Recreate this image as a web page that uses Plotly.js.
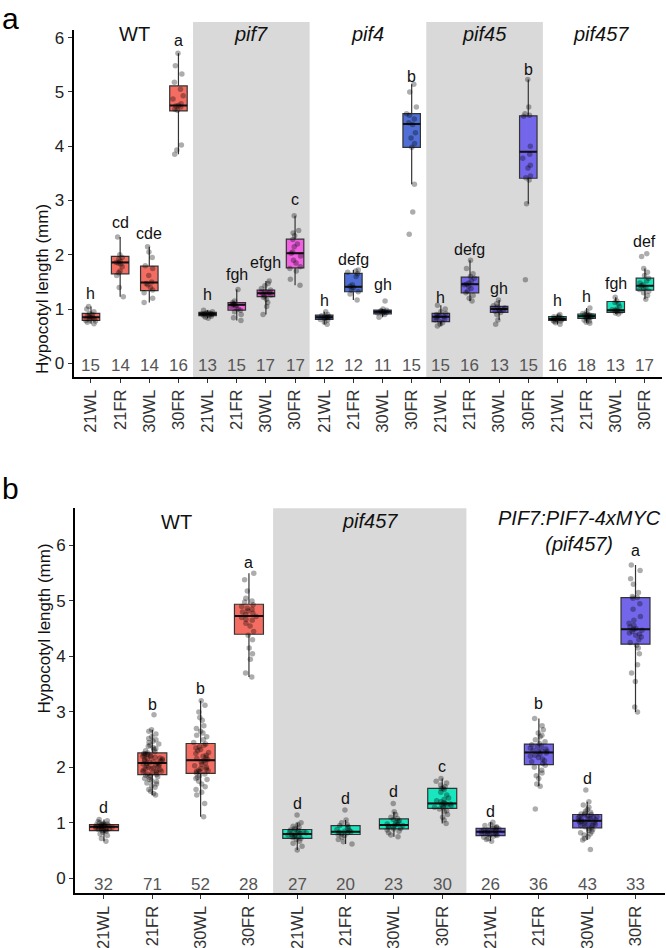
<!DOCTYPE html>
<html><head><meta charset="utf-8">
<script src="https://cdn.plot.ly/plotly-3.0.1.min.js"></script>
<style>html,body{margin:0;padding:0;background:#fff}#chart{width:666px;height:948px}</style>
</head><body><div id="chart"></div>
<script>
// ---------- Panel a ----------
const aGenotypes = ['WT', '<i>pif7</i>', '<i>pif4</i>', '<i>pif45</i>', '<i>pif457</i>'];
const aColors = ['#F46D62', '#F060E0', '#4F6FD6', '#7466EA', '#18E6BE'];
const aTickLabels = ['21WL','21FR','30WL','30FR','21WL','21FR','30WL','30FR','21WL','21FR','30WL','30FR','21WL','21FR','30WL','30FR','21WL','21FR','30WL','30FR'];
const aCounts = [15,14,14,16, 13,15,17,17, 12,12,11,15, 15,16,13,15, 16,18,13,17];
const aLetters = ['h','cd','cde','a', 'h','fgh','efgh','c', 'h','defg','gh','b', 'h','defg','gh','b', 'h','h','fgh','def'];
const aLetterY = [1.28,2.60,2.39,5.94, 1.26,1.64,1.86,3.02, 1.15,1.92,1.46,5.29, 1.22,2.10,1.38,5.41, 1.15,1.24,1.47,2.25];
const aQ1     = [0.79,1.65,1.34,4.65, 0.88,0.98,1.23,1.76, 0.81,1.32,0.91,3.98, 0.77,1.30,0.94,3.41, 0.79,0.83,0.94,1.35];
const aMedian = [0.85,1.86,1.49,4.75, 0.91,1.08,1.29,2.03, 0.85,1.41,0.95,4.41, 0.86,1.46,1.00,3.90, 0.82,0.87,0.98,1.43];
const aQ3     = [0.92,1.97,1.79,5.11, 0.94,1.12,1.35,2.29, 0.89,1.66,0.98,4.60, 0.92,1.59,1.05,4.56, 0.86,0.91,1.14,1.57];
const aLower  = [0.73,1.23,1.12,3.85, 0.83,0.79,0.90,1.44, 0.72,1.17,0.85,3.30, 0.69,1.15,0.80,2.94, 0.72,0.74,0.91,1.18];
const aUpper  = [1.05,2.33,2.15,5.71, 0.98,1.36,1.52,2.72, 0.95,1.72,1.00,5.14, 1.07,1.90,1.17,5.23, 0.90,1.02,1.22,1.75];
const aPoints = [
  [1.05,1.00,0.95,0.92,0.90,0.88,0.86,0.85,0.84,0.82,0.80,0.79,0.78,0.76,0.73],
  [2.33,2.00,1.95,1.92,1.88,1.86,1.85,1.83,1.78,1.70,1.67,1.62,1.40,1.23],
  [2.15,2.05,1.95,1.80,1.75,1.62,1.50,1.47,1.45,1.40,1.35,1.30,1.20,1.12],
  [5.71,5.48,5.33,5.18,5.05,4.93,4.87,4.78,4.75,4.74,4.72,4.68,4.66,4.02,3.93,3.85],
  [0.98,0.95,0.94,0.93,0.92,0.91,0.91,0.90,0.89,0.88,0.87,0.85,0.83],
  [1.36,1.15,1.12,1.10,1.09,1.08,1.07,1.05,1.03,1.00,0.98,0.95,0.90,0.84,0.79],
  [1.52,1.47,1.43,1.38,1.35,1.33,1.31,1.30,1.29,1.28,1.26,1.24,1.22,1.18,1.12,1.05,0.90],
  [2.72,2.45,2.40,2.35,2.28,2.20,2.15,2.05,2.03,1.98,1.90,1.85,1.78,1.75,1.70,1.55,1.44],
  [0.95,0.90,0.88,0.86,0.85,0.85,0.84,0.83,0.81,0.80,0.76,0.72],
  [1.72,1.70,1.68,1.65,1.60,1.45,1.42,1.40,1.35,1.32,1.28,1.17],
  [1.15,1.00,0.98,0.97,0.96,0.95,0.94,0.93,0.92,0.90,0.85],
  [5.14,5.00,4.72,4.60,4.57,4.50,4.43,4.40,4.25,4.15,4.05,3.98,3.30,2.79,2.38],
  [1.07,1.00,0.95,0.92,0.90,0.88,0.87,0.86,0.84,0.82,0.80,0.77,0.75,0.72,0.69],
  [1.90,1.75,1.65,1.60,1.57,1.52,1.48,1.46,1.45,1.42,1.38,1.33,1.30,1.25,1.20,1.15],
  [1.17,1.10,1.06,1.04,1.02,1.00,0.99,0.98,0.96,0.94,0.90,0.80,0.72],
  [5.23,4.72,4.60,4.57,4.55,4.00,3.85,3.78,3.65,3.60,3.45,3.42,3.38,2.94,1.54],
  [0.90,0.88,0.86,0.85,0.84,0.83,0.83,0.82,0.82,0.81,0.80,0.79,0.78,0.77,0.75,0.72],
  [1.02,0.95,0.92,0.91,0.90,0.89,0.88,0.88,0.87,0.86,0.85,0.84,0.83,0.82,0.80,0.78,0.76,0.74],
  [1.22,1.15,1.12,1.10,1.05,1.00,0.99,0.98,0.97,0.96,0.95,0.93,0.91],
  [2.02,1.97,1.75,1.68,1.62,1.57,1.52,1.48,1.45,1.43,1.40,1.38,1.36,1.33,1.30,1.25,1.18]
];

// ---------- Panel b ----------
const bGenotypes = ['WT', '<i>pif457</i>', '<i>PIF7:PIF7-4xMYC</i><br><i>(pif457)</i>'];
const bColors = ['#F46D62', '#18E6BE', '#7466EA'];
const bTickLabels = ['21WL','21FR','30WL','30FR','21WL','21FR','30WL','30FR','21WL','21FR','30WL','30FR'];
const bCounts = [32,71,52,28, 27,20,23,30, 26,36,43,33];
const bLetters = ['d','b','b','a', 'd','d','d','c', 'd','b','d','a'];
const bLetterY = [1.27,3.13,3.43,5.70, 1.34,1.44,1.57,2.02, 1.20,3.15,1.80,5.91];
const bQ1     = [0.86,1.87,1.89,4.40, 0.72,0.79,0.89,1.26, 0.77,2.05,0.91,4.22];
const bMedian = [0.93,2.08,2.13,4.73, 0.80,0.84,0.96,1.35, 0.84,2.27,1.04,4.49];
const bQ3     = [0.97,2.26,2.43,4.94, 0.88,0.95,1.07,1.62, 0.90,2.42,1.15,5.06];
const bLower  = [0.67,1.50,1.11,3.63, 0.51,0.62,0.75,0.99, 0.67,1.66,0.69,3.00];
const bUpper  = [1.06,2.68,3.20,5.50, 1.00,1.05,1.20,1.80, 1.01,2.88,1.38,5.65];
const bPoints = [
  [1.06,1.04,1.02,1.00,0.99,0.98,0.97,0.97,0.96,0.96,0.95,0.95,0.94,0.94,0.93,0.93,0.92,0.92,0.91,0.90,0.90,0.89,0.88,0.87,0.86,0.86,0.85,0.83,0.80,0.77,0.72,0.67],
  [2.95,2.68,2.65,2.60,2.55,2.52,2.50,2.47,2.45,2.42,2.40,2.38,2.36,2.34,2.32,2.30,2.28,
   2.26,2.25,2.24,2.23,2.22,2.21,2.20,2.19,2.18,2.17,2.16,2.15,2.14,2.13,2.12,2.11,2.10,2.09,
   2.08,
   2.07,2.06,2.05,2.04,2.03,2.02,2.00,1.99,1.98,1.97,1.96,1.95,1.94,1.93,1.92,1.91,1.90,1.88,
   1.87,1.86,1.85,1.83,1.82,1.80,1.78,1.76,1.74,1.72,1.70,1.67,1.64,1.60,1.57,1.53,1.50],
  [3.20,3.12,3.00,2.90,2.85,2.75,2.70,2.65,2.62,2.58,2.55,2.50,2.45,
   2.42,2.40,2.37,2.35,2.32,2.30,2.27,2.25,2.22,2.20,2.18,2.16,2.14,
   2.12,2.10,2.08,2.05,2.03,2.00,1.98,1.97,1.95,1.94,1.93,1.92,1.90,
   1.88,1.85,1.82,1.80,1.78,1.75,1.70,1.65,1.60,1.55,1.50,1.35,1.11],
  [5.50,5.38,5.18,5.05,5.00,4.98,4.93,4.90,4.87,4.85,4.82,4.80,4.78,4.75,
   4.72,4.70,4.67,4.65,4.60,4.55,4.45,4.38,4.30,4.15,4.05,3.95,3.70,3.63],
  [1.14,1.00,0.97,0.94,0.92,0.90,0.88,0.87,0.86,0.85,0.84,0.83,0.82,0.81,0.80,0.79,0.78,0.77,0.76,0.75,0.74,0.72,0.70,0.67,0.63,0.58,0.51],
  [1.23,1.05,1.00,0.97,0.95,0.93,0.90,0.88,0.86,0.85,0.84,0.83,0.82,0.80,0.79,0.77,0.74,0.70,0.66,0.62],
  [1.35,1.20,1.15,1.10,1.08,1.06,1.04,1.02,1.00,0.98,0.97,0.96,0.95,0.94,0.93,0.92,0.90,0.89,0.87,0.85,0.82,0.78,0.75],
  [1.80,1.75,1.72,1.68,1.65,1.63,1.62,1.60,1.55,1.50,1.45,1.42,1.40,1.38,1.36,1.35,1.34,1.33,1.32,1.31,1.30,1.28,1.27,1.25,1.22,1.20,1.15,1.10,1.05,0.99],
  [1.01,0.97,0.95,0.93,0.92,0.91,0.90,0.89,0.88,0.87,0.86,0.85,0.84,0.84,0.83,0.82,0.81,0.80,0.79,0.78,0.77,0.76,0.74,0.72,0.70,0.67],
  [2.88,2.75,2.68,2.62,2.58,2.55,2.50,2.46,2.43,2.41,2.39,2.37,2.35,2.33,2.31,2.30,2.29,2.28,
   2.26,2.24,2.22,2.20,2.18,2.15,2.12,2.10,2.07,2.04,2.00,1.95,1.90,1.85,1.80,1.70,1.66,1.25],
  [1.59,1.38,1.32,1.28,1.24,1.21,1.19,1.17,1.16,1.15,1.14,1.13,1.12,1.11,1.10,1.09,1.08,1.07,1.06,1.05,1.04,
   1.03,1.02,1.01,1.00,0.99,0.98,0.97,0.96,0.95,0.93,0.91,0.90,0.88,0.86,0.84,0.82,0.80,0.78,0.75,0.72,0.69,0.52],
  [5.65,5.55,5.40,5.30,5.15,5.08,5.06,5.05,4.95,4.85,4.72,4.65,4.60,4.56,4.53,4.50,4.49,
   4.47,4.45,4.42,4.40,4.38,4.35,4.30,4.25,4.20,4.15,4.05,3.85,3.70,3.55,3.09,3.00]
];

const FONT = 'Liberation Sans, Arial, Helvetica, sans-serif';
const traces = [];
const annotations = [];

function buildPanel(xa, ya, colors, q1, med, q3, lo, hi, pts, nGroups) {
  for (let g = 0; g < nGroups; g++) {
    const idx = [0,1,2,3].map(k => g*4 + k);
    // box with whiskers
    traces.push({
      type: 'box', xaxis: xa, yaxis: ya, x: idx,
      q1: idx.map(i => q1[i]), median: idx.map(i => med[i]), q3: idx.map(i => q3[i]),
      lowerfence: idx.map(i => lo[i]), upperfence: idx.map(i => hi[i]),
      width: 0.6, whiskerwidth: 0, boxpoints: false,
      fillcolor: colors[g], line: {color: '#333', width: 1.2},
      hoverinfo: 'skip', showlegend: false
    });
    // median line (zero-height box)
    traces.push({
      type: 'box', xaxis: xa, yaxis: ya, x: idx,
      q1: idx.map(i => med[i]), median: idx.map(i => med[i]), q3: idx.map(i => med[i]),
      lowerfence: idx.map(i => med[i]), upperfence: idx.map(i => med[i]),
      width: 0.6, whiskerwidth: 0, boxpoints: false,
      fillcolor: 'rgba(0,0,0,0)', line: {color: '#111', width: 2},
      hoverinfo: 'skip', showlegend: false
    });
  }
  // jittered points
  const px = [], py = [];
  pts.forEach((arr, i) => arr.forEach(v => { px.push(i); py.push(v); }));
  traces.push({
    type: 'box', xaxis: xa, yaxis: ya, x: px, y: py,
    width: 0.6, boxpoints: 'all', jitter: 0.7, pointpos: 0, whiskerwidth: 0,
    fillcolor: 'rgba(0,0,0,0)', line: {color: 'rgba(0,0,0,0)', width: 0},
    marker: {color: 'rgba(0,0,0,0.32)', size: 5.5, line: {width: 0}},
    hoverinfo: 'skip', showlegend: false
  });
}

buildPanel('x', 'y', aColors, aQ1, aMedian, aQ3, aLower, aUpper, aPoints, 5);
buildPanel('x2', 'y2', bColors, bQ1, bMedian, bQ3, bLower, bUpper, bPoints, 3);

// letters and counts
aLetters.forEach((t, i) => annotations.push({xref:'x', yref:'y', x:i, y:aLetterY[i], text:t, showarrow:false, font:{family:FONT, size:16, color:'#111'}}));
aCounts.forEach((t, i) => annotations.push({xref:'x', yref:'y', x:i, y:-0.03, text:String(t), showarrow:false, font:{family:FONT, size:17, color:'#555'}}));
bLetters.forEach((t, i) => annotations.push({xref:'x2', yref:'y2', x:i, y:bLetterY[i], text:t, showarrow:false, font:{family:FONT, size:16, color:'#111'}}));
bCounts.forEach((t, i) => annotations.push({xref:'x2', yref:'y2', x:i, y:-0.12, text:String(t), showarrow:false, font:{family:FONT, size:17, color:'#555'}}));

// genotype headers
aGenotypes.forEach((t, g) => annotations.push({xref:'x', yref:'y', x:g*4+1.5, y:6.06, text:t, showarrow:false, font:{family:FONT, size:20, color:'#111'}}));
annotations.push({xref:'x2', yref:'y2', x:1.5, y:6.43, text:bGenotypes[0], showarrow:false, font:{family:FONT, size:20, color:'#111'}});
annotations.push({xref:'x2', yref:'y2', x:5.5, y:6.45, text:bGenotypes[1], showarrow:false, font:{family:FONT, size:20, color:'#111'}});
annotations.push({xref:'x2', yref:'y2', x:9.84, y:6.26, text:bGenotypes[2], showarrow:false, font:{family:FONT, size:20, color:'#111'}});

// y titles and panel letters
annotations.push({xref:'paper', yref:'paper', x:31.5/666, y:1-202/948, text:'Hypocotyl length (mm)', textangle:-90, showarrow:false, font:{family:FONT, size:17, color:'#111'}});
annotations.push({xref:'paper', yref:'paper', x:32/666, y:1-716/948, text:'Hypocotyl length (mm)', textangle:-90, showarrow:false, font:{family:FONT, size:17, color:'#111'}});
annotations.push({xref:'paper', yref:'paper', x:0, xanchor:'left', y:1, yanchor:'top', text:'a', showarrow:false, font:{family:FONT, size:30, color:'#000'}});
annotations.push({xref:'paper', yref:'paper', x:0, xanchor:'left', y:1-470/948, yanchor:'top', text:'b', showarrow:false, font:{family:FONT, size:30, color:'#000'}});

const shapes = [
  {type:'rect', xref:'x', yref:'paper', x0:3.5, x1:7.5, y0:1-377/948, y1:1-22/948, fillcolor:'#D9D9D9', line:{width:0}, layer:'below'},
  {type:'rect', xref:'x', yref:'paper', x0:11.5, x1:15.5, y0:1-377/948, y1:1-22/948, fillcolor:'#D9D9D9', line:{width:0}, layer:'below'},
  {type:'rect', xref:'x2', yref:'paper', x0:3.5, x1:7.5, y0:1-893.3/948, y1:1-508.3/948, fillcolor:'#D9D9D9', line:{width:0}, layer:'below'}
];

const xCommon = {showline:true, linecolor:'#000', linewidth:2, ticks:'outside', ticklen:4, tickcolor:'#333', tickwidth:1,
  tickangle:-90, tickfont:{family:FONT, size:16.5, color:'#333'}, showgrid:false, zeroline:false, fixedrange:true};
const yCommon = {showline:true, linecolor:'#000', linewidth:2, ticks:'outside', ticklen:4, tickcolor:'#333', tickwidth:1,
  tickvals:[0,1,2,3,4,5,6], tickfont:{family:FONT, size:17, color:'#222'}, showgrid:false, zeroline:false, fixedrange:true};

const layout = {
  width: 666, height: 948, margin: {l:0, r:0, t:0, b:0},
  paper_bgcolor: '#fff', plot_bgcolor: 'rgba(0,0,0,0)',
  showlegend: false, hovermode: false, boxmode: 'overlay',
  font: {family: FONT},
  xaxis: Object.assign({}, xCommon, {domain:[73.5/666, 662.4/666], range:[-0.6, 19.6], anchor:'y',
    tickvals: aTickLabels.map((_, i) => i), ticktext: aTickLabels}),
  yaxis: Object.assign({}, yCommon, {domain:[1-377/948, 1-30/948], range:[-0.25, 6.14], anchor:'x'}),
  xaxis2: Object.assign({}, xCommon, {domain:[75/666, 664.5/666], range:[-0.6, 11.6], anchor:'y2',
    tickvals: bTickLabels.map((_, i) => i), ticktext: bTickLabels}),
  yaxis2: Object.assign({}, yCommon, {domain:[1-893.3/948, 1-508.3/948], range:[-0.27, 6.67], anchor:'x2'}),
  shapes: shapes,
  annotations: annotations
};

Plotly.newPlot('chart', traces, layout, {staticPlot: true, displayModeBar: false});
</script>
</body></html>
